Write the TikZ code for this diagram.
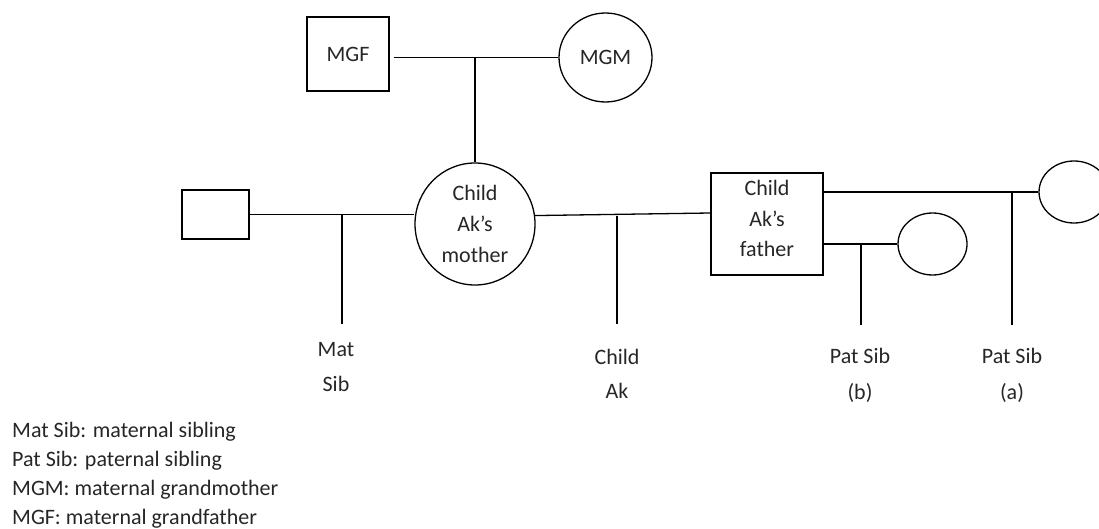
\documentclass[tikz,border=0pt]{standalone}
\usepackage{fontspec}
\setmainfont{Carlito}
\usetikzlibrary{shapes.geometric}

\begin{document}
\begin{tikzpicture}[x=1pt,y=-1pt,
  male/.style={draw,rectangle,line width=1.3pt,inner sep=0pt,align=center,
    text=black!85,font=\fontsize{22}{31}\selectfont},
  female/.style={draw,ellipse,line width=1.3pt,inner sep=0pt,align=center,
    text=black!85,font=\fontsize{22}{31}\selectfont},
  tie/.style={line width=1.3pt},
  lbl/.style={align=center,inner sep=0pt,text=black!85}]
  \useasboundingbox (0,0) rectangle (1099,529);
  \clip (0,0) rectangle (1099,529);

  \node[male,minimum width=82pt,minimum height=74pt] (mgf) at (348,54) {MGF};
  \node[female,minimum width=93pt,minimum height=89pt] (mgm) at (605.5,57.5) {MGM};
  \node[female,minimum width=120pt,minimum height=122pt] (mother) at (475,224)
    {Child\\Ak’s\\mother};
  \node[male,minimum width=67pt,minimum height=49pt] (matpartner) at (215.5,214.5) {};
  \node[male,minimum width=112pt,minimum height=102pt,
    font=\fontsize{22}{30.5}\selectfont] (father) at (767,224)
    {Child\\Ak’s\\father\\[-20pt]};
  \node[female,minimum width=69pt,minimum height=62pt] (wifeb) at (932.5,244) {};
  \node[female,minimum width=70pt,minimum height=62pt] (wifea) at (1074,192) {};

  \coordinate (matsib) at (342,324);
  \coordinate (ak) at (617,324);
  \coordinate (patb) at (861,325);
  \coordinate (pata) at (1012,325);

  \draw[tie] ([xshift=4pt]mgf.east |- mgm.west) -- (mgm.west);
  \draw[tie] (mother.north |- mgm.west) -- (mother.north);
  \draw[tie] (matpartner.east) -- (matpartner.east -| mother.west);
  \draw[tie] (matsib |- matpartner.east) -- (matsib);
  \draw[tie] (mother.8.6) -- ([yshift=11pt]father.west);
  \draw[tie] (ak |- mother.8.6) -- (ak);
  \draw[tie] (father.east |- wifea.west) -- (wifea.west);
  \draw[tie] (pata |- wifea.west) -- (pata);
  \draw[tie] (father.east |- wifeb.west) -- (wifeb.west);
  \draw[tie] (patb |- wifeb.west) -- (patb);

  \node[lbl,font=\fontsize{22}{35}\selectfont] (matsiblbl) at (336,367) {Mat\\Sib};
  \node[lbl,font=\fontsize{22}{34}\selectfont] (aklbl) at (617,374) {Child\\Ak};
  \node[lbl,font=\fontsize{22}{36}\selectfont] (patblbl) at (860,375) {Pat Sib\\(b)};
  \node[lbl,font=\fontsize{22}{36}\selectfont] (patalbl) at (1012,375) {Pat Sib\\(a)};

  \foreach \t [count=\i from 0] in {Mat Sib: maternal sibling,
      Pat Sib: paternal sibling, MGM: maternal grandmother,
      MGF: maternal grandfather}
    \node[lbl,anchor=base west,font=\fontsize{22}{29}\selectfont] (key\i)
      at (12,437+29*\i) {\t};
\end{tikzpicture}
\end{document}
